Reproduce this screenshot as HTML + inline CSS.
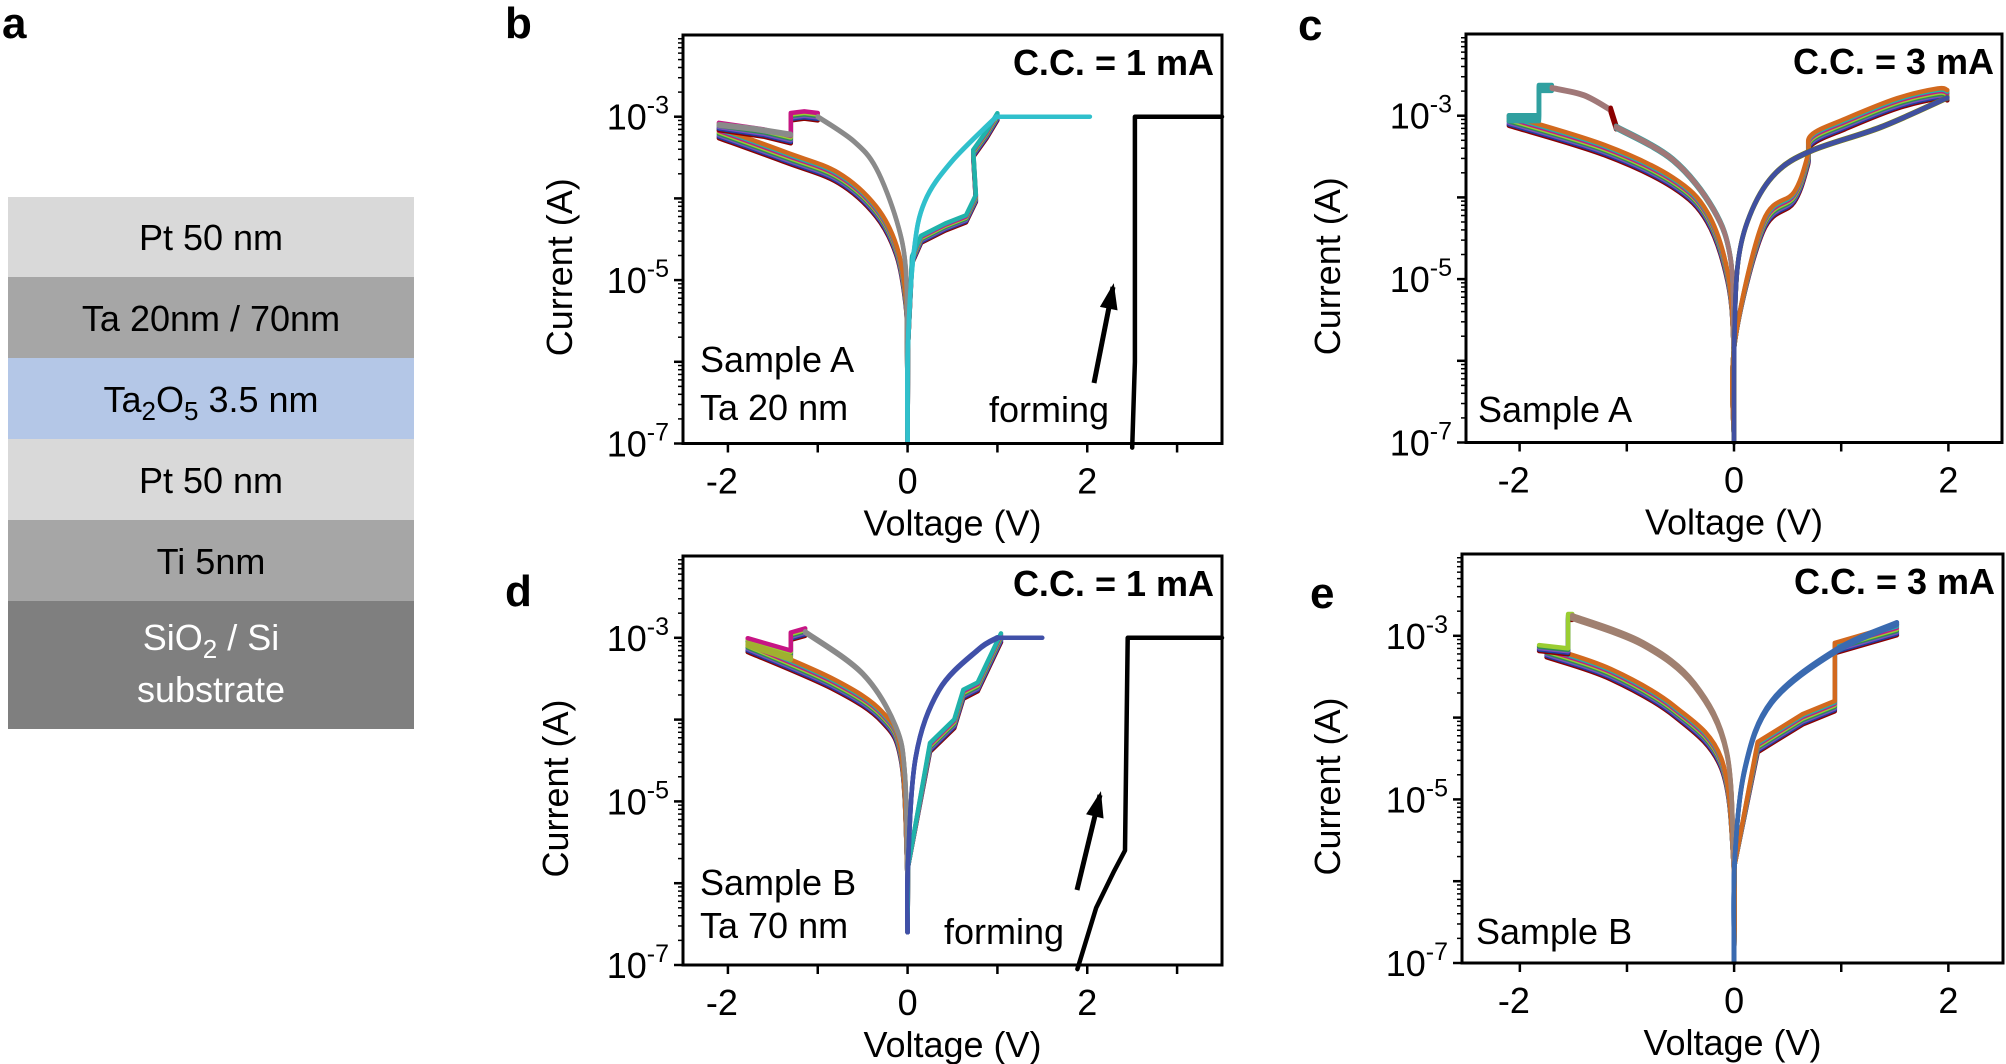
<!DOCTYPE html>
<html><head><meta charset="utf-8">
<style>
html,body{margin:0;padding:0;background:#fff;}
svg{display:block;font-family:"Liberation Sans",Arial,sans-serif;}
</style></head>
<body>
<svg id="s" width="2006" height="1064" viewBox="0 0 2006 1064" xmlns="http://www.w3.org/2000/svg">
<rect width="2006" height="1064" fill="#fff"/>
<rect x="8" y="197" width="406" height="80" fill="#d9d9d9"/>
<rect x="8" y="277" width="406" height="81" fill="#a6a6a6"/>
<rect x="8" y="358" width="406" height="81" fill="#b4c7e7"/>
<rect x="8" y="439" width="406" height="81" fill="#d9d9d9"/>
<rect x="8" y="520" width="406" height="81" fill="#a6a6a6"/>
<rect x="8" y="601" width="406" height="128" fill="#7f7f7f"/>
<g font-size="36" text-anchor="middle" fill="#000">
<text x="211" y="250">Pt 50 nm</text>
<text x="211" y="331">Ta 20nm / 70nm</text>
<text x="211" y="412">Ta<tspan font-size="26" dy="8">2</tspan><tspan dy="-8">O</tspan><tspan font-size="26" dy="8">5</tspan><tspan dy="-8"> 3.5 nm</tspan></text>
<text x="211" y="493">Pt 50 nm</text>
<text x="211" y="574">Ti 5nm</text>
<text x="211" y="650" fill="#fff">SiO<tspan font-size="26" dy="8">2</tspan><tspan dy="-8"> / Si</tspan></text>
<text x="211" y="702" fill="#fff">substrate</text>
</g>
<g font-size="44" font-weight="bold">
<text x="2" y="38">a</text>
<text x="505" y="38">b</text>
<text x="1298" y="40">c</text>
<text x="505" y="606">d</text>
<text x="1310" y="608">e</text>
</g>
<g id="plots"></g>
</svg>
<script>
const NS="http://www.w3.org/2000/svg";
const root=document.getElementById('plots');
function el(t,a,txt){const e=document.createElementNS(NS,t);for(const k in a)e.setAttribute(k,a[k]);if(txt!==undefined)e.textContent=txt;root.appendChild(e);return e;}
function smooth(p){
  let d='M'+p[0][0].toFixed(1)+' '+p[0][1].toFixed(1);
  for(let i=0;i<p.length-1;i++){
    const p0=p[Math.max(i-1,0)],p1=p[i],p2=p[i+1],p3=p[Math.min(i+2,p.length-1)];
    const c1x=p1[0]+(p2[0]-p0[0])/6,c1y=p1[1]+(p2[1]-p0[1])/6;
    const c2x=p2[0]-(p3[0]-p1[0])/6,c2y=p2[1]-(p3[1]-p1[1])/6;
    d+=` C${c1x.toFixed(1)} ${c1y.toFixed(1)} ${c2x.toFixed(1)} ${c2y.toFixed(1)} ${p2[0].toFixed(1)} ${p2[1].toFixed(1)}`;
  }
  return d;
}
function panel(P){
  const X=v=>P.x0+(v-P.vmin)/(P.vmax-P.vmin)*(P.x1-P.x0);
  const Y=l=>P.y0+(-2-l)/5*(P.y1-P.y0);
  const cols=P.cols;
  P.curves.forEach(c=>{
    const n=c.n||8;
    for(let i=0;i<n;i++){
      const col=c.color||cols[i%cols.length];
      const k=i-(n-1)/2;
      const dy=k*0.018*(c.spread==null?1:c.spread);
      const pts=c.pts.map(p=>[X(p[0]),Y(Math.min(p[1]+(p[1]>-5.8?dy:0),-2))]);
      const d=c.sharp?pts.map((q,j)=>(j?'L':'M')+q[0].toFixed(1)+' '+q[1].toFixed(1)).join(' '):smooth(pts);
      el('path',{d:d,fill:'none',stroke:col,'stroke-width':c.w||4.5,'stroke-linejoin':'round','stroke-linecap':'round'});
    }
  });
  el('rect',{x:P.x0,y:P.y0,width:P.x1-P.x0,height:P.y1-P.y0,fill:'none',stroke:'#000','stroke-width':3});
  for(let d=-7;d<-2;d++){
    for(let m=1;m<10;m++){
      const l=d+Math.log10(m);const y=Y(l);
      el('line',{x1:P.x0,x2:P.x0-(m==1?9:5),y1:y,y2:y,stroke:'#000','stroke-width':m==1?2.5:1.5});
    }
  }
  [-7,-5,-3].forEach(d=>{
    const t=el('text',{x:P.x0-14,y:Y(d)+13,'font-size':36,'text-anchor':'end'});
    t.innerHTML='10<tspan font-size="25" dy="-16">'+d+'</tspan>';
  });
  for(let v=Math.ceil(P.vmin);v<=P.vmax;v++){
    el('line',{x1:X(v),x2:X(v),y1:P.y1,y2:P.y1+9,stroke:'#000','stroke-width':2.5});
    if(v%2==0) el('text',{x:X(v)-(v<0?6:0),y:P.y1+50,'font-size':36,'text-anchor':'middle'},String(v));
  }
  el('text',{x:(P.x0+P.x1)/2,y:P.y1+92,'font-size':36,'text-anchor':'middle'},'Voltage (V)');
  el('text',{x:P.ylx,y:(P.y0+P.y1)/2+28,'font-size':36,'text-anchor':'middle',transform:'rotate(-90 '+P.ylx+' '+((P.y0+P.y1)/2+28)+')'},'Current (A)');
  el('text',{x:P.x1-8,y:P.y0+40,'font-size':36,'font-weight':'bold','text-anchor':'end'},P.cc);
  P.texts.forEach(t=>el('text',{x:t[0],y:t[1],'font-size':36},t[2]));
  if(P.arrow){const a=P.arrow;
    el('line',{x1:a[0],y1:a[1],x2:a[2],y2:a[3],stroke:'#000','stroke-width':5});
    const ang=Math.atan2(a[3]-a[1],a[2]-a[0]);const L=22,W=9;
    const bx=a[2]-L*Math.cos(ang),by=a[3]-L*Math.sin(ang);
    const ex=a[2]+4*Math.cos(ang),ey=a[3]+4*Math.sin(ang);
    el('path',{d:`M${ex} ${ey} L${bx+W*Math.sin(ang)} ${by-W*Math.cos(ang)} L${bx-W*Math.sin(ang)} ${by+W*Math.cos(ang)} Z`,fill:'#000'});
  }
}
const multi=['#8b0000','#1f3f9f','#7a4fbf','#2e8b57','#9acd32','#c71585','#20b2aa','#d2691e','#808000','#4169e1','#ff0000','#32cd32'];
// b
panel({x0:683,x1:1222,vmin:-2.5,vmax:3.5,y0:35,y1:443.5,ylx:572,cc:'C.C. = 1 mA',cols:multi,
 texts:[[700,372,'Sample A'],[700,420,'Ta 20 nm'],[989,422,'forming']],arrow:[1094,383,1113,287],
 curves:[
  {pts:[[0,-7],[-0.005,-5.8],[-0.02,-5.26],[-0.12,-4.65],[-0.35,-4.16],[-0.77,-3.75],[-1.35,-3.5],[-2.1,-3.2]]},
  {pts:[[-2.1,-3.12],[-1.6,-3.2],[-1.3,-3.28],[-1.3,-3.0],[-1.15,-2.98],[-1.0,-3.0]],n:6,sharp:true},
  {pts:[[-2.1,-3.1],[-1.7,-3.15],[-1.3,-3.22]],color:'#8a8a8a',n:2,sharp:true},
  {pts:[[-1.0,-3.0],[-0.6,-3.3],[-0.35,-3.63],[-0.12,-4.28],[-0.02,-4.86],[-0.004,-5.8],[0,-7]],color:'#8a8a8a',n:2,spread:0.5},
  {pts:[[0,-7],[0.005,-5.8],[0.05,-4.75],[0.15,-4.5],[0.42,-4.35],[0.65,-4.25],[0.76,-4.0],[0.73,-3.45],[0.88,-3.22],[1.0,-3.0]],sharp:true,n:7,spread:0.8},
  {pts:[[0,-7],[0.004,-5.8],[0.07,-4.65],[0.19,-4.04],[0.49,-3.55],[0.99,-3.0]],color:'#30c0cc',n:2,spread:0.4},
  {pts:[[0.99,-3.0],[2.03,-3.0]],color:'#30c0cc',n:1,sharp:true},
  {pts:[[2.5,-7.05],[2.53,-6],[2.53,-3],[3.5,-3]],color:'#000',n:1,sharp:true},
 ]});
// c
panel({x0:1466,x1:2002,vmin:-2.5,vmax:2.5,y0:34,y1:442.5,ylx:1340,cc:'C.C. = 3 mA',cols:multi.concat(['#7b8fa0','#a07070']),
 texts:[[1478,422,'Sample A']],
 curves:[
  {pts:[[0,-7],[-0.005,-5.8],[-0.06,-4.97],[-0.25,-4.24],[-0.57,-3.82],[-1.21,-3.42],[-2.1,-3.06]]},
  {pts:[[-2.1,-3.03],[-1.82,-3.03],[-1.82,-2.66],[-1.70,-2.66]],n:5,sharp:true,color:'#30a0a0'},
  {pts:[[-1.70,-2.66],[-1.4,-2.75],[-1.15,-2.93]],color:'#a07878',n:3,spread:0.5},
  {pts:[[-1.15,-2.93],[-1.1,-3.14]],n:4,sharp:true,color:'#8b0000'},
  {pts:[[-1.1,-3.14],[-0.57,-3.54],[-0.19,-4.15],[-0.03,-4.77],[-0.003,-5.8],[0,-7]],n:4,spread:0.6,color:'#3aa0a0'},
  {pts:[[-1.1,-3.14],[-0.57,-3.54],[-0.19,-4.15],[-0.03,-4.77],[-0.003,-5.8],[0,-7]],n:3,spread:0.4,color:'#a07878'},
  {pts:[[0,-7],[0.005,-5.8],[0.27,-4.36],[0.56,-4.0],[0.69,-3.54],[0.72,-3.3],[1.04,-3.1],[1.52,-2.85],[1.9,-2.73],[1.99,-2.75]],n:8},
  {pts:[[1.99,-2.78],[1.37,-3.14],[0.72,-3.43],[0.39,-3.7],[0.17,-4.15],[0.04,-4.77],[0.003,-5.8],[0,-7]],color:'#808000',n:3,spread:0.5},
  {pts:[[1.99,-2.78],[1.37,-3.14],[0.72,-3.43],[0.39,-3.7],[0.17,-4.15],[0.04,-4.77],[0.003,-5.8],[0,-7]],color:'#4050a0',n:2,spread:0.3},
 ]});
// d
panel({x0:683,x1:1222,vmin:-2.5,vmax:3.5,y0:556,y1:965,ylx:568,cc:'C.C. = 1 mA',cols:multi,
 texts:[[700,895,'Sample B'],[700,938,'Ta 70 nm'],[944,944,'forming']],arrow:[1077,890,1100,795],
 curves:[
  {pts:[[0,-6.6],[-0.005,-5.8],[-0.07,-4.46],[-0.28,-3.97],[-0.82,-3.57],[-1.78,-3.11]]},
  {pts:[[-1.78,-3.05],[-1.3,-3.2],[-1.3,-2.98],[-1.14,-2.93]],n:6,sharp:true},
  {pts:[[-1.78,-3.08],[-1.3,-3.25]],color:'#a0b030',n:3,sharp:true},
  {pts:[[-1.14,-2.93],[-0.5,-3.44],[-0.13,-4.09],[-0.03,-4.67],[-0.003,-5.8],[0,-6.6]],color:'#8a8a8a',n:3,spread:0.5},
  {pts:[[0,-6.6],[0.005,-5.8],[0.25,-4.34],[0.52,-4.05],[0.62,-3.69],[0.78,-3.6],[1.04,-3.0]],sharp:true,n:7},
  {pts:[[0,-6.6],[0.004,-5.8],[0.09,-4.46],[0.35,-3.64],[0.78,-3.15],[1.0,-3.0]],color:'#4050a8',n:3,spread:0.4},
  {pts:[[1.0,-3.0],[1.5,-3.0]],color:'#4050a8',n:1,sharp:true},
  {pts:[[1.89,-7.05],[2.1,-6.3],[2.3,-5.85],[2.42,-5.6],[2.45,-3],[3.5,-3]],color:'#000',n:1,sharp:true},
 ]});
// e
panel({x0:1462,x1:2003,vmin:-2.54,vmax:2.51,y0:554,y1:963,ylx:1340,cc:'C.C. = 3 mA',cols:multi.concat(['#a08070','#3070b0']),
 texts:[[1476,944,'Sample B']],
 curves:[
  {pts:[[0,-7],[-0.005,-5.8],[-0.12,-4.56],[-0.55,-3.93],[-1.15,-3.47],[-1.75,-3.2]]},
  {pts:[[-1.82,-3.15],[-1.55,-3.19],[-1.55,-2.77],[-1.51,-2.77]],n:5,sharp:true},
  {pts:[[-1.51,-2.77],[-0.85,-3.1],[-0.37,-3.6],[-0.07,-4.42],[-0.005,-5.8],[0,-7]],color:'#a08070',n:4,spread:0.8},
  {pts:[[0,-7],[0.005,-5.8],[0.22,-4.36],[0.64,-4.02],[0.94,-3.86],[0.94,-3.15],[1.52,-2.93]],sharp:true},
  {pts:[[1.52,-2.85],[0.94,-3.19],[0.35,-3.81],[0.1,-4.63],[0.004,-5.8],[0,-7]],color:'#3a6ab0',n:4,spread:0.6},
 ]});
</script>
</body></html>
